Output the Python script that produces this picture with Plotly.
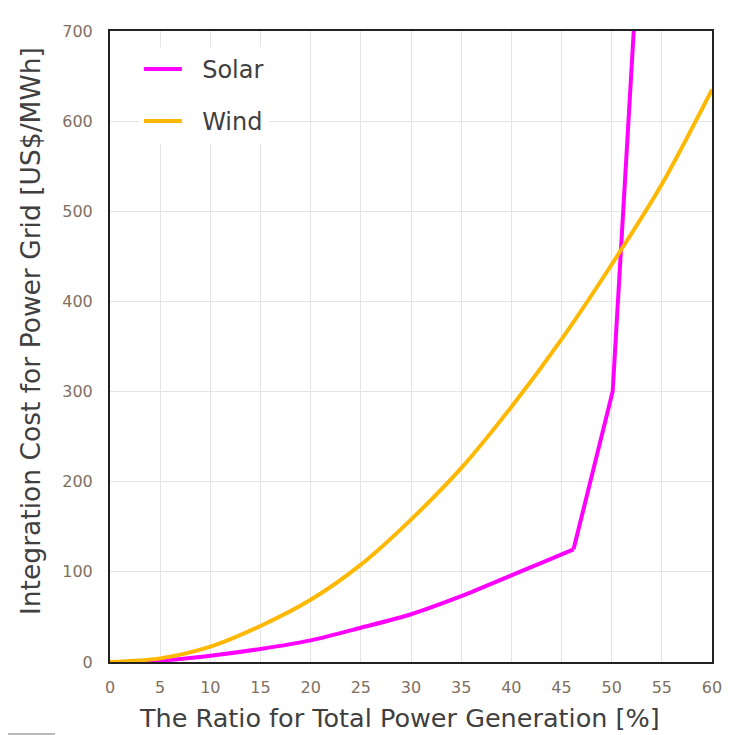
import plotly.graph_objects as go

# Solar: smooth part up to the kink, then straight segments
solar_x = [0, 5, 10, 15, 20, 25, 30, 35, 40, 43, 46.2]
solar_y = [0, 1.5, 7, 14.5, 24, 38, 53, 73, 96, 110, 125]
solar_steep_x = [46.2, 50.1, 52.2]
solar_steep_y = [125, 300, 700]

wind_x = [0, 5, 10, 15, 20, 25, 30, 35, 40, 45, 50, 55, 60]
wind_y = [0, 4, 17, 40, 69, 108, 158, 215, 283, 358, 441, 530, 635]

x_ticks = list(range(0, 61, 5))
y_ticks = list(range(0, 701, 100))

x_title = "The Ratio for Total Power Generation [%]"
y_title = "Integration Cost for Power Grid [US$/MWh]"

FONT = "DejaVu Sans, Verdana, sans-serif"
NB = "\u00a0\u00a0"

fig = go.Figure()
fig.add_trace(go.Scatter(x=solar_x, y=solar_y, mode="lines", name=NB + "Solar", legendgroup="solar",
                         line=dict(color="#ff00ff", width=4, shape="spline", smoothing=0.8)))
fig.add_trace(go.Scatter(x=solar_steep_x, y=solar_steep_y, mode="lines", name="Solar",
                         legendgroup="solar", showlegend=False,
                         line=dict(color="#ff00ff", width=4)))
fig.add_trace(go.Scatter(x=wind_x, y=wind_y, mode="lines", name=NB + "Wind", legendgroup="wind",
                         line=dict(color="#ffb800", width=4, shape="spline", smoothing=0.8)))

tick_font = dict(family=FONT, size=16, color="#7f6f60")

W, H = 729, 727
L, R, T, B = 102, 25, 23, 73
pw, ph = W - L - R, H - T - B
# page is offset by 8px; reference pixel -> paper coordinate helpers
def px(xpix):
    return (xpix - 8 - L) / pw
def py(ypix):
    return (T + ph - (ypix - 8)) / ph

fig.update_layout(
    width=W, height=H,
    margin=dict(l=L, r=R, t=T, b=B),
    paper_bgcolor="white", plot_bgcolor="white",
    showlegend=True,
    legend=dict(x=0.048, y=0.975, xanchor="left", yanchor="top",
                bgcolor="white", font=dict(family=FONT, size=24, color="#404040"),
                itemwidth=38, tracegroupgap=18, borderwidth=0),
    xaxis=dict(range=[0, 60], tickvals=x_ticks, ticktext=[str(v) for v in x_ticks],
               showgrid=True, gridcolor="#e4e4e4", gridwidth=1,
               showline=True, linecolor="#222222", linewidth=2, mirror=True,
               zeroline=False, ticks="outside", ticklen=10, tickcolor="rgba(0,0,0,0)",
               tickfont=tick_font),
    yaxis=dict(range=[0, 700], tickvals=y_ticks, ticktext=[str(v) for v in y_ticks],
               showgrid=True, gridcolor="#e4e4e4", gridwidth=1,
               showline=True, linecolor="#222222", linewidth=2, mirror=True,
               zeroline=False, ticks="outside", ticklen=12, tickcolor="rgba(0,0,0,0)",
               tickfont=tick_font),
    annotations=[
        dict(text=x_title, xref="paper", yref="paper", x=px(399), y=py(718),
             xanchor="center", yanchor="middle", showarrow=False,
             font=dict(family=FONT, size=25.5, color="#404040")),
        dict(text=y_title, xref="paper", yref="paper", x=px(30), y=py(331),
             xanchor="center", yanchor="middle", showarrow=False, textangle=-90,
             font=dict(family=FONT, size=26.5, color="#404040")),
    ],
    shapes=[
        dict(type="line", xref="paper", yref="paper",
             x0=px(731), x1=px(731), y0=py(710), y1=py(18),
             line=dict(color="#cccccc", width=1)),
        dict(type="line", xref="paper", yref="paper",
             x0=px(8), x1=px(55), y0=py(734), y1=py(734),
             line=dict(color="#bbbbbb", width=2)),
    ],
)

fig.write_html("out.html")
